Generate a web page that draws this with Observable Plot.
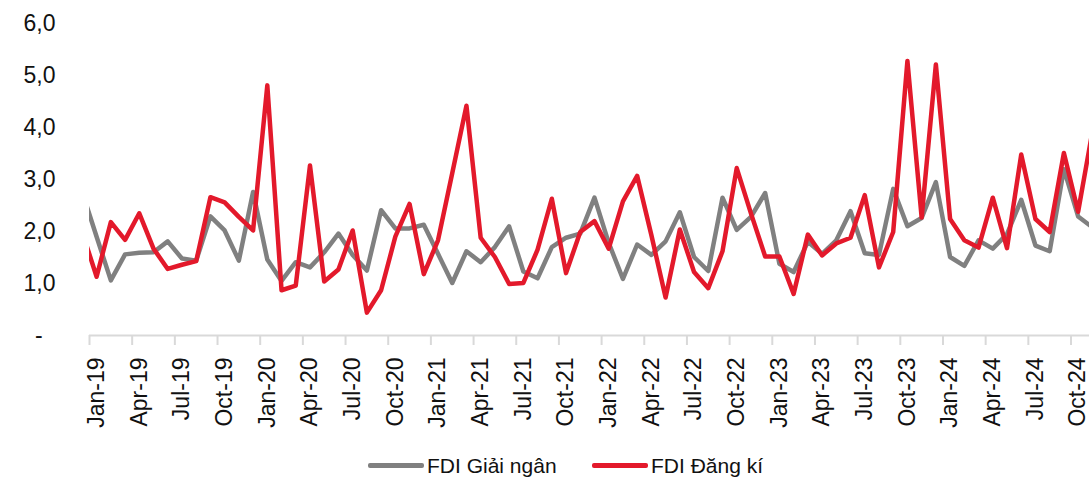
<!DOCTYPE html>
<html><head><meta charset="utf-8">
<script src="https://cdn.jsdelivr.net/npm/d3@7"></script>
<script src="https://cdn.jsdelivr.net/npm/@observablehq/plot@0.6"></script>
<style>
body{margin:0;background:#fff;font-family:"Liberation Sans",Arial,sans-serif}
#chart svg{display:block}
#legend{position:relative;height:41px;width:1089px;font-size:21px;color:#111}
.sw{position:absolute;top:23px;height:5px;border-radius:2px}
.lt{position:absolute;top:13px;line-height:26px;white-space:nowrap}
</style>
</head><body>
<div id="chart"></div>
<div id="legend">
  <span class="sw" style="left:368px;width:56px;background:#808080"></span>
  <span class="lt" style="left:427px">FDI Giải ngân</span>
  <span class="sw" style="left:592px;width:56px;background:#E3192B"></span>
  <span class="lt" style="left:651px">FDI Đăng kí</span>
</div>
<script>
const months = ["Dec-18",
 "Jan-19","Feb-19","Mar-19","Apr-19","May-19","Jun-19","Jul-19","Aug-19","Sep-19","Oct-19","Nov-19","Dec-19",
 "Jan-20","Feb-20","Mar-20","Apr-20","May-20","Jun-20","Jul-20","Aug-20","Sep-20","Oct-20","Nov-20","Dec-20",
 "Jan-21","Feb-21","Mar-21","Apr-21","May-21","Jun-21","Jul-21","Aug-21","Sep-21","Oct-21","Nov-21","Dec-21",
 "Jan-22","Feb-22","Mar-22","Apr-22","May-22","Jun-22","Jul-22","Aug-22","Sep-22","Oct-22","Nov-22","Dec-22",
 "Jan-23","Feb-23","Mar-23","Apr-23","May-23","Jun-23","Jul-23","Aug-23","Sep-23","Oct-23","Nov-23","Dec-23",
 "Jan-24","Feb-24","Mar-24","Apr-24","May-24","Jun-24","Jul-24","Aug-24","Sep-24","Oct-24","Nov-24"];

const giaiNgan = [2.75,
 1.90,1.06,1.56,1.59,1.60,1.81,1.48,1.44,2.29,2.02,1.44,2.76,
 1.46,1.05,1.41,1.31,1.60,1.96,1.55,1.25,2.41,2.06,2.06,2.13,
 1.57,1.01,1.62,1.41,1.70,2.10,1.23,1.10,1.70,1.88,1.96,2.65,
 1.78,1.09,1.75,1.55,1.81,2.37,1.51,1.24,2.65,2.03,2.28,2.74,
 1.38,1.22,1.80,1.57,1.83,2.39,1.58,1.55,2.82,2.10,2.26,2.95,
 1.51,1.34,1.83,1.67,1.95,2.61,1.73,1.62,3.20,2.29,2.08];

const dangKi = [1.98,
 1.13,2.18,1.84,2.35,1.67,1.28,1.36,1.43,2.66,2.56,2.28,2.02,
 4.81,0.87,0.96,3.27,1.04,1.27,2.02,0.44,0.87,1.90,2.53,1.18,
 1.83,3.12,4.42,1.88,1.51,0.99,1.01,1.65,2.63,1.20,1.99,2.20,
 1.67,2.58,3.07,1.93,0.73,2.04,1.22,0.91,1.62,3.22,2.35,1.52,
 1.52,0.80,1.94,1.54,1.77,1.88,2.70,1.31,1.99,5.28,2.27,5.21,
 2.24,1.83,1.69,2.65,1.68,3.48,2.24,1.99,3.51,2.38,3.92];

const tickLabels = ["Jan-19","Apr-19","Jul-19","Oct-19","Jan-20","Apr-20","Jul-20","Oct-20",
 "Jan-21","Apr-21","Jul-21","Oct-21","Jan-22","Apr-22","Jul-22","Oct-22",
 "Jan-23","Apr-23","Jul-23","Oct-23","Jan-24","Apr-24","Jul-24","Oct-24"];

const yTicks = [0,1,2,3,4,5,6];

const idx = m => months.indexOf(m) - 1;   // Jan-19 -> 0
const rows = [];
months.forEach((m,k) => {
  rows.push({i: k-1, v: giaiNgan[k], s: "FDI Giải ngân"});
});
months.forEach((m,k) => {
  rows.push({i: k-1, v: dangKi[k], s: "FDI Đăng kí"});
});
const labelPos = tickLabels.map(t => ({i: idx(t), t}));
const boundaries = tickLabels.map(t => idx(t) - 0.5);

const chart = Plot.plot({
  width: 1089,
  height: 440,
  marginLeft: 89,
  marginRight: 0,
  marginTop: 23,
  marginBottom: 105,
  style: {fontFamily: "Liberation Sans, Arial, sans-serif", background: "#fff", color: "#111"},
  x: {type: "linear", domain: [-0.5, 69.8], axis: null},
  y: {domain: [0, 6], axis: null},
  color: {domain: ["FDI Giải ngân", "FDI Đăng kí"], range: ["#808080", "#E3192B"]},
  marks: [
    Plot.axisY({ticks: yTicks, tickSize: 0, tickPadding: 34, fontSize: 23, label: null,
      tickFormat: d => d === 0 ? "-\u2007" : d.toFixed(1).replace(".", ",")}),
    Plot.ruleY([0], {stroke: "#d9d9d9", strokeWidth: 2}),
    Plot.axisX({ticks: boundaries, tickSize: 10, tickFormat: () => "", label: null, stroke: "#d9d9d9", strokeWidth: 2, strokeOpacity: 1}),
    Plot.text(labelPos, {x: "i", text: "t", frameAnchor: "bottom", rotate: -90, textAnchor: "end",
      lineAnchor: "middle", dy: 22, fontSize: 23, fill: "#111"}),
    Plot.line(rows, {x: "i", y: "v", z: "s", stroke: "s", strokeWidth: 4.5, strokeLinejoin: "round", clip: true})
  ]
});
document.getElementById("chart").appendChild(chart);
</script>
</body></html>
